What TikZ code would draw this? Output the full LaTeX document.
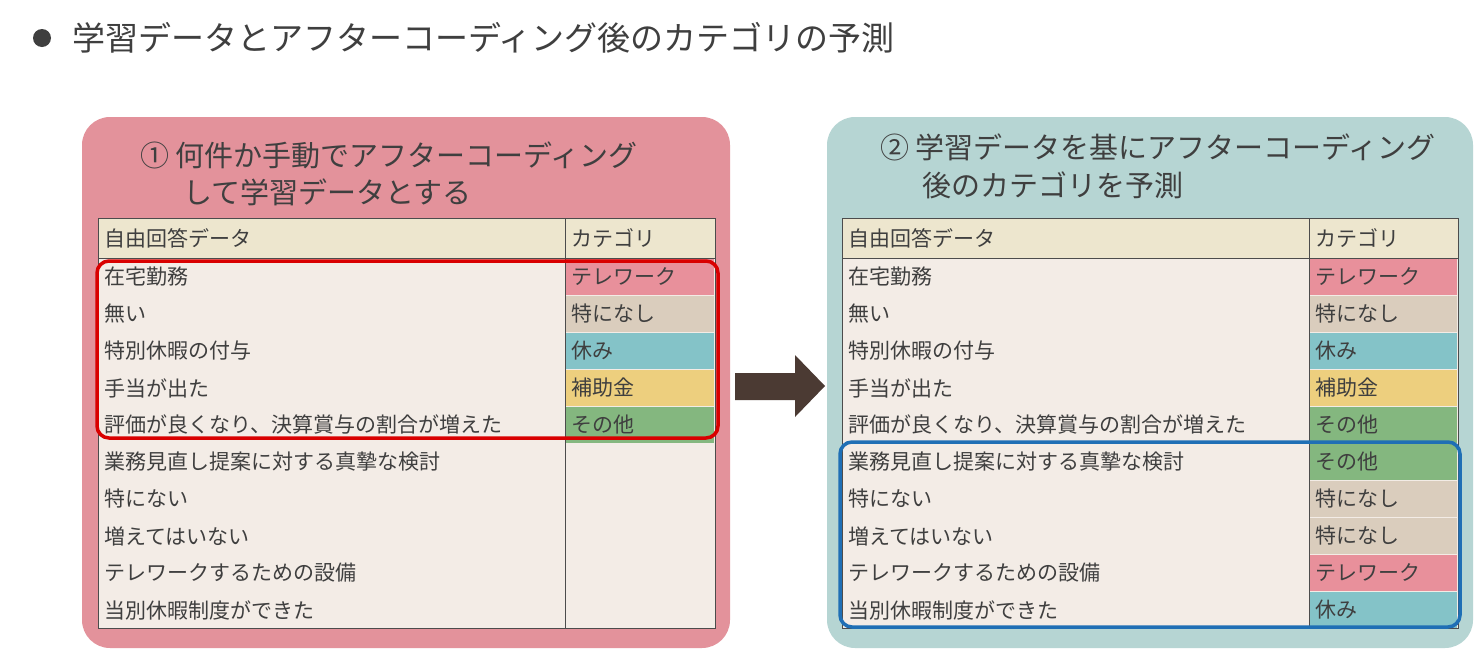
\documentclass[tikz,border=0pt]{standalone}
\usepackage{fontspec}
\setmainfont{Noto Sans CJK JP}
\definecolor{pinkbg}{HTML}{E3929B}
\definecolor{tealbg}{HTML}{B6D5D3}
\definecolor{hdr}{HTML}{EDE6CE}
\definecolor{body}{HTML}{F3ECE6}
\definecolor{ctele}{HTML}{E8909B}
\definecolor{cnone}{HTML}{DACDBD}
\definecolor{crest}{HTML}{84C3C8}
\definecolor{csub}{HTML}{EDCF7E}
\definecolor{cother}{HTML}{84B77F}
\definecolor{txt}{HTML}{3F3F3F}
\definecolor{arr}{HTML}{4B3A33}
\tikzset{
 panel/.style={rounded corners=28pt, draw=none},
 cell/.style={anchor=west, text=txt, font=\fontsize{21pt}{21pt}\selectfont, inner sep=0pt},
 head/.style={anchor=west, text=txt, font=\fontsize{29pt}{29pt}\selectfont, inner sep=0pt},
}
\newcommand{\drawtable}[3]{% x0, divider, x1
 \fill[hdr] (#1,218) rectangle (#3,258);
 \fill[body] (#1,258) rectangle (#3,628);
 \draw[black!70, line width=0.8pt] (#1,218) rectangle (#3,628);
 \draw[black!70, line width=0.8pt] (#2,218) -- (#2,628);
 \draw[black!70, line width=0.8pt] (#1,258) -- (#3,258);
}
\begin{document}
\begin{tikzpicture}[x=1pt,y=-1pt]
\useasboundingbox (0,0) rectangle (1475,651);
\fill[white] (0,0) rectangle (1475,651);
\fill[txt] (42,38) circle (9);
\node[head, font=\fontsize{33pt}{33pt}\selectfont] (title) at (72,38) {学習データとアフターコーディング後のカテゴリの予測};
\fill[panel, pinkbg] (82,117) rectangle (730,648);
\fill[panel, tealbg] (827,117) rectangle (1473,648);
\node[head] (lh1) at (140,155) {①\ 何件か手動でアフターコーディング};
\node[head] (lh2) at (183,192) {して学習データとする};
\node[head] (rh1) at (880,147) {②\ 学習データを基にアフターコーディング};
\node[head] (rh2) at (922,185) {後のカテゴリを予測};
% left table
\drawtable{98}{565}{715}
\node[cell] (lhd) at (104,238) {自由回答データ};
\node[cell] (lhc) at (571,238) {カテゴリ};
% right table
\drawtable{842}{1309}{1458}
\node[cell] (rhd) at (848,238) {自由回答データ};
\node[cell] (rhc) at (1315,238) {カテゴリ};
\foreach \i/\t in {0/在宅勤務,1/無い,2/特別休暇の付与,3/手当が出た,4/評価が良くなり、決算賞与の割合が増えた,5/業務見直し提案に対する真摯な検討,6/特にない,7/増えてはいない,8/テレワークするための設備,9/当別休暇制度ができた}{
 \node[cell] (l\i) at (104,{277+37*\i}) {\t};
 \node[cell] (r\i) at (848,{277+37*\i}) {\t};
}
\foreach \i/\c/\t in {0/ctele/テレワーク,1/cnone/特になし,2/crest/休み,3/csub/補助金,4/cother/その他}{
 \fill[\c] (566,{259+37*\i}) rectangle (714,{295+37*\i});
 \node[cell] (lc\i) at (571,{277+37*\i}) {\t};
}
\foreach \i/\c/\t in {0/ctele/テレワーク,1/cnone/特になし,2/crest/休み,3/csub/補助金,4/cother/その他,5/cother/その他,6/cnone/特になし,7/cnone/特になし,8/ctele/テレワーク,9/crest/休み}{
 \fill[\c] (1310,{259+37*\i}) rectangle (1457,{295+37*\i});
 \node[cell] (rc\i) at (1315,{277+37*\i}) {\t};
}
\draw[red!85!black, line width=3.5pt, rounded corners=12pt] (97,261) rectangle (718,438);
\draw[blue!60!black!70!cyan, color={rgb,255:red,31;green,111;blue,181}, line width=3.5pt, rounded corners=12pt] (840,442) rectangle (1460,627);
\fill[arr] (735,373) -- (795,373) -- (795,355) -- (825,386) -- (795,417) -- (795,400) -- (735,400) -- cycle;
\end{tikzpicture}
\end{document}
